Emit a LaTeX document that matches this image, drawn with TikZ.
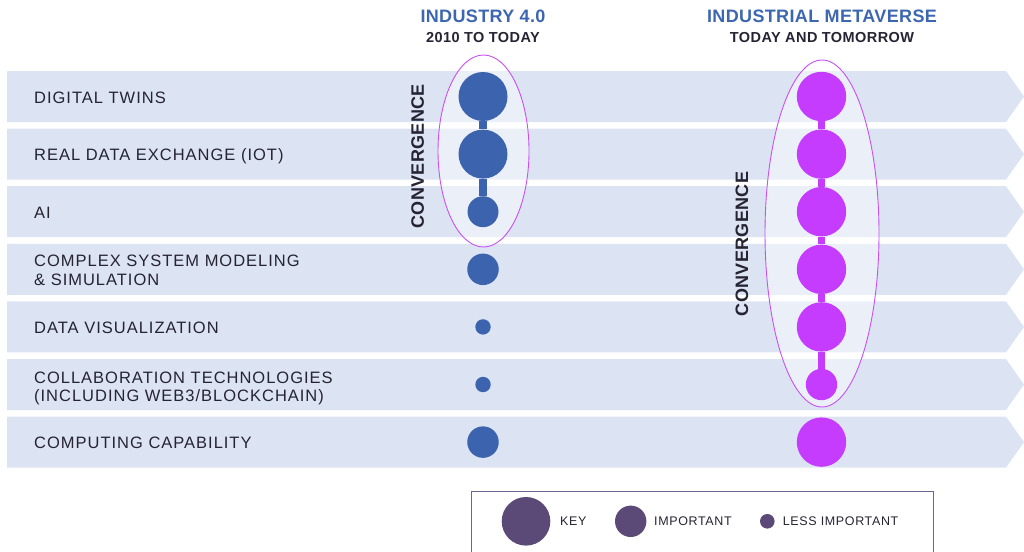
\documentclass[tikz,border=0pt]{standalone}
\usepackage{fontspec}
\setmainfont{Liberation Sans}
\definecolor{rowfill}{HTML}{DCE4F4}
\definecolor{indblue}{HTML}{3C64AE}
\definecolor{headblue}{HTML}{3D66B0}
\definecolor{metapurple}{HTML}{C63CFE}
\definecolor{ringpurple}{HTML}{C850F5}
\definecolor{darktext}{HTML}{262333}
\definecolor{legendfill}{HTML}{5B4A78}
\definecolor{legendline}{HTML}{6E6590}
\begin{document}
\begin{tikzpicture}[x=1pt,y=-1pt,
  rowlabel/.style={anchor=base west,inner sep=0pt,align=left,text=darktext,
    font=\fontsize{16.5}{18.5}\selectfont\addfontfeatures{LetterSpace=6}},
  dot/.style={circle,inner sep=0pt,minimum size=#1},
  inddot/.style={dot=#1,fill=indblue},
  metadot/.style={dot=#1,fill=metapurple},
  legdot/.style={dot=#1,fill=legendfill},
  indlink/.style={line width=7.5pt,draw=indblue},
  metalink/.style={line width=7.5pt,draw=metapurple},
  ring/.style={draw=ringpurple,line width=0.9pt},
  ringfill/.style={fill=white,fill opacity=0.45},
  conv/.style={rotate=90,inner sep=0pt,text=darktext,font=\bfseries\fontsize{18}{18}\selectfont\addfontfeatures{LetterSpace=2}},
  headtitle/.style={inner sep=0pt,anchor=base,text=headblue,font=\bfseries\fontsize{18}{18}\selectfont\addfontfeatures{LetterSpace=2}},
  headsub/.style={inner sep=0pt,anchor=base,text=darktext,font=\bfseries\fontsize{14.5}{14.5}\selectfont\addfontfeatures{LetterSpace=3}},
  legtext/.style={inner sep=0pt,anchor=base west,text=darktext,font=\fontsize{12.5}{12.5}\selectfont\addfontfeatures{LetterSpace=5}}
]
\useasboundingbox (0,0) rectangle (1024,551);
% rows
\foreach \i in {0,...,6}{
  \pgfmathsetmacro\t{71+57.6*\i}
  \fill[rowfill] (7,\t) -- (1006,\t) -- (1024,{\t+25.5}) -- (1006,{\t+51}) -- (7,{\t+51}) -- cycle;
}
% ellipse interiors
\fill[ringfill] (483.5,151) ellipse [x radius=45.5, y radius=96];
\fill[ringfill] (822,233.5) ellipse [x radius=57, y radius=173.5];
% row labels
\node[rowlabel] (l1) at (34,103) {DIGITAL TWINS};
\node[rowlabel] (l2) at (34,160.6) {REAL DATA EXCHANGE (IOT)};
\node[rowlabel] (l3) at (34,218.2) {AI};
\node[rowlabel] (l4) at (34,285) {COMPLEX SYSTEM MODELING\\\& SIMULATION};
\node[rowlabel] (l5) at (34,333.4) {DATA VISUALIZATION};
\node[rowlabel] (l6) at (34,401.5) {COLLABORATION TECHNOLOGIES\\(INCLUDING WEB3/BLOCKCHAIN)};
\node[rowlabel] (l7) at (34,448.6) {COMPUTING CAPABILITY};
% headings
\node[headtitle] (h1) at (483,23) {INDUSTRY 4.0};
\node[headsub] (h1s) at (483,42) {2010 TO TODAY};
\node[headtitle] (h2) at (822,23) {INDUSTRIAL METAVERSE};
\node[headsub] (h2s) at (822,42) {TODAY AND TOMORROW};
% industry 4.0 dots
\node[inddot=49] (i1) at (483,96.5) {};
\node[inddot=49] (i2) at (483,154.1) {};
\node[inddot=31] (i3) at (483,211.7) {};
\node[inddot=31.5] (i4) at (483,269.3) {};
\node[inddot=15.4] (i5) at (483,326.9) {};
\node[inddot=15.4] (i6) at (483,384.5) {};
\node[inddot=31.5] (i7) at (483,442.1) {};
\draw[indlink] (i1) -- (i2);
\draw[indlink] (i2) -- (i3);
% metaverse dots
\node[metadot=49.4] (m1) at (821.5,96.5) {};
\node[metadot=49.4] (m2) at (821.5,154.1) {};
\node[metadot=49.4] (m3) at (821.5,211.7) {};
\node[metadot=49.4] (m4) at (821.5,269.3) {};
\node[metadot=49.4] (m5) at (821.5,326.9) {};
\node[metadot=31.4] (m6) at (821.5,384.5) {};
\node[metadot=49.4] (m7) at (821.5,442.1) {};
\draw[metalink] (m1) -- (m2);
\draw[metalink] (m2) -- (m3);
\draw[metalink] (m3) -- (m4);
\draw[metalink] (m4) -- (m5);
\draw[metalink] (m5) -- (m6);
% ellipse outlines
\draw[ring] (483.5,151) ellipse [x radius=45.5, y radius=96];
\draw[ring] (822,233.5) ellipse [x radius=57, y radius=173.5];
% convergence labels
\node[conv] (c1) at (417.7,156.3) {CONVERGENCE};
\node[conv] (c2) at (742,244) {CONVERGENCE};
% legend
\draw[legendline,line width=1pt] (471,560) -- (471,491) -- (933,491) -- (933,560);
\node[legdot=48.6] (k1) at (526,521.3) {};
\node[legdot=31.4] (k2) at (630.7,521.3) {};
\node[legdot=14.6] (k3) at (767.3,521.3) {};
\node[legtext] (t1) at (560,525.8) {KEY};
\node[legtext] (t2) at (654,525.8) {IMPORTANT};
\node[legtext] (t3) at (782.7,525.8) {LESS IMPORTANT};
\end{tikzpicture}
\end{document}
